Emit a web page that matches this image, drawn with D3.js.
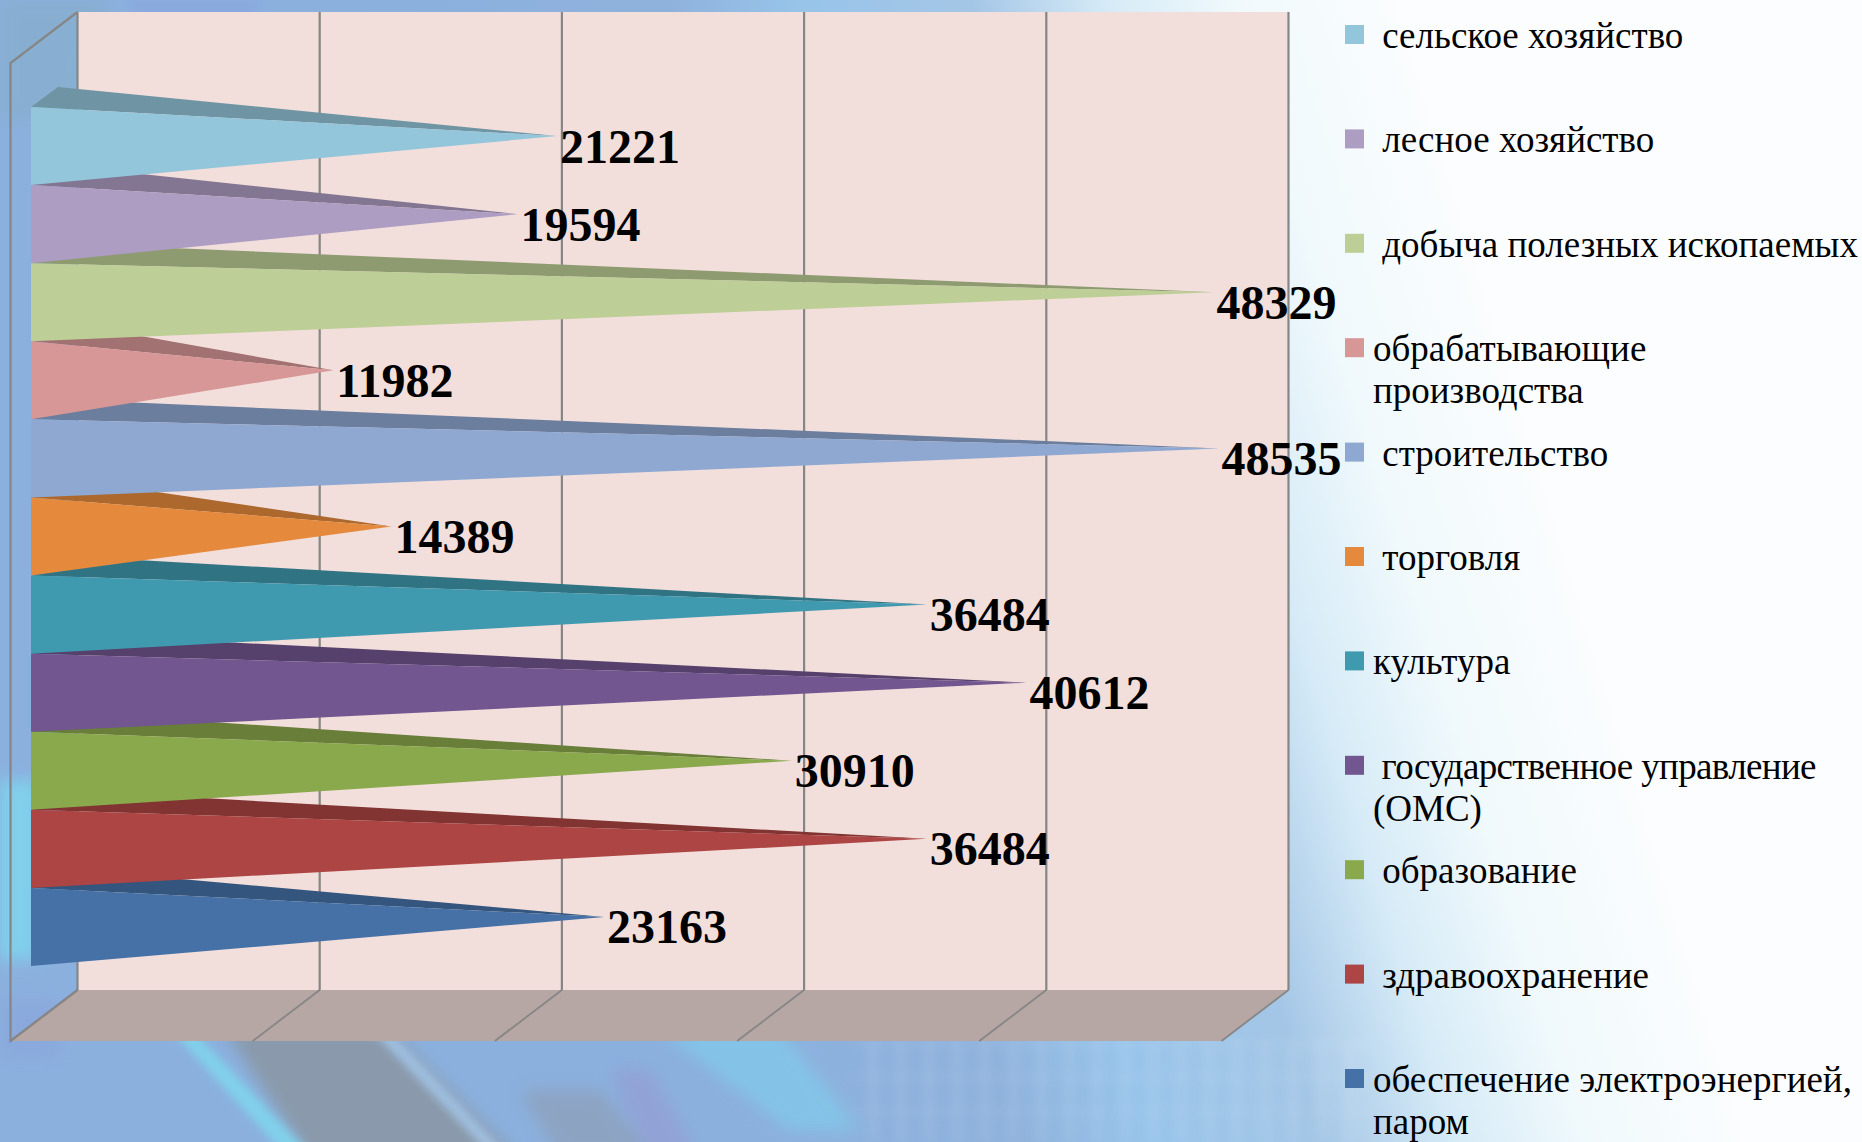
<!DOCTYPE html>
<html><head><meta charset="utf-8">
<script src="https://cdn.jsdelivr.net/npm/d3@7"></script>
<style>html,body{margin:0;padding:0;background:#fff;overflow:hidden}svg{display:block}</style>
</head><body><svg id="c" width="1862" height="1142"></svg>
<script>
const categories = ["сельское хозяйство","лесное хозяйство","добыча полезных ископаемых","обрабатывающие производства","строительство","торговля","культура","государственное управление (ОМС)","образование","здравоохранение","обеспечение электроэнергией, паром"];
const values = [21221,19594,48329,11982,48535,14389,36484,40612,30910,36484,23163];
const colors = ["#93c6da","#ae9dc2","#bdce96","#d69796","#8ea8d2","#e58a3c","#409aaf","#71568f","#8aa84c","#ac4543","#4571a6"];
const legendLines = [["\u00a0сельское хозяйство"],["\u00a0лесное хозяйство"],["\u00a0добыча полезных ископаемых"],["обрабатывающие","производства"],["\u00a0строительство"],["\u00a0торговля"],["культура"],["\u00a0государственное управление","(ОМС)"],["\u00a0образование"],["\u00a0здравоохранение"],["обеспечение электроэнергией,","паром"]];
const axisTicks = [0,10000,20000,30000,40000,50000];

const svg = d3.select("#c");
const defs = svg.append("defs");
const W=1862,H=1142;
// background
const bg = defs.append("linearGradient").attr("id","bg").attr("gradientUnits","userSpaceOnUse")
  .attr("x1",444).attr("y1",293).attr("x2",1400).attr("y2",0);
[[0,"#8bb0de"],[.3,"#8fb2dc"],[.425,"#98c4ea"],[.59,"#a4c6e6"],[.72,"#d6ebf7"],[.84,"#f0f9fc"],[1,"#fbfdfe"]].forEach(s=>bg.append("stop").attr("offset",s[0]).attr("stop-color",s[1]));
[["b8",8],["b5",5],["b30",28]].forEach(f=>defs.append("filter").attr("id",f[0]).attr("x","-50%").attr("y","-50%").attr("width","200%").attr("height","200%").append("feGaussianBlur").attr("stdDeviation",f[1]));
const pat = defs.append("pattern").attr("id","stripes").attr("patternUnits","userSpaceOnUse").attr("width",28).attr("height",34);
pat.append("rect").attr("width",10).attr("height",34).attr("fill","#fff").attr("opacity",.07);
pat.append("rect").attr("y",20).attr("width",28).attr("height",7).attr("fill","#fff").attr("opacity",.04);
const bgG = svg.append("g");
bgG.append("rect").attr("width",W).attr("height",H).attr("fill","url(#bg)");
const blob=(pts,fill,op,f)=>bgG.append("path").attr("d","M"+pts.join("L")+"Z").attr("fill",fill).attr("opacity",op).attr("filter","url(#"+f+")");
blob([[0,0],[110,0],[70,120],[0,120]],"#86aecb",.7,"b8");
blob([[130,0],[260,0],[260,14],[130,14]],"#8a9fe0",.4,"b5");
blob([[225,1030],[390,1030],[520,1160],[310,1160]],"#8a97a6",.9,"b8");
blob([[520,1090],[600,1090],[660,1160],[560,1160]],"#8f98a8",.5,"b8");
blob([[172,1030],[192,1030],[316,1160],[290,1160]],"#7fd8ee",.85,"b5");
blob([[372,1030],[388,1030],[512,1160],[496,1160]],"#a7cdf2",.8,"b5");
blob([[660,1030],[780,1030],[860,1130],[790,1130]],"#7fd0ee",.6,"b8");
blob([[610,1070],[650,1070],[700,1160],[650,1160]],"#9a92cf",.45,"b8");
blob([[0,780],[40,780],[40,960],[0,960]],"#7cdcf0",.8,"b8");
blob([[0,1000],[60,1000],[60,1060],[0,1060]],"#8aa4dc",.6,"b8");
bgG.append("rect").attr("x",850).attr("y",1040).attr("width",520).attr("height",102).attr("fill","url(#stripes)").attr("filter","url(#b5)");

// geometry of the 3D box
const backX0=77.5, backX1=1288.5, backTop=12, backBottom=990, depthX=67, depthY=51;
const x = d3.scaleLinear().domain([axisTicks[0],axisTicks[axisTicks.length-1]]).range([backX0,backX1]);
const y = d3.scaleBand().domain(categories).range([107,966]);
const line = d3.line();
const project=(v,d)=>[x(v)-depthX*d, backBottom+depthY*d];

const G="#868686";
// left wall
svg.append("path").attr("d",line([[backX0,backTop],[backX0-depthX,backTop+depthY],[backX0-depthX,backBottom+depthY],[backX0,backBottom]])+"Z").attr("fill","#8fb4e6").attr("opacity",.1);
// back wall
svg.append("rect").attr("x",backX0).attr("y",backTop).attr("width",backX1-backX0).attr("height",backBottom-backTop).attr("fill","#f2dedb");
// floor
svg.append("path").attr("d",line([project(0,0),project(50000,0),project(50000,1),project(0,1)])+"Z").attr("fill","#b6a7a5");
// grid
svg.append("g").selectAll("line").data(axisTicks).join("line")
  .attr("x1",d=>x(d)).attr("x2",d=>x(d)).attr("y1",backTop).attr("y2",backBottom).attr("stroke",G).attr("stroke-width",2.2);
svg.append("g").selectAll("path").data(axisTicks).join("path")
  .attr("d",d=>line([project(d,0),project(d,1)])).attr("fill","none").attr("stroke",G).attr("stroke-width",1.8);
// wall outline
svg.append("path").attr("d",line([[backX0,backTop],[backX0-depthX,backTop+depthY],[backX0-depthX,backBottom+depthY],[backX0,backBottom]])).attr("fill","none").attr("stroke",G).attr("stroke-width",2.2);

// pyramids, drawn bottom first so upper ones cover lower ones' top faces
const baseX=31, topDX=27, topDY=20;
const order = d3.range(categories.length).reverse();
const tip=i=>[x(values[i])-depthX/2-1, y(categories[i])+y.bandwidth()/2-topDY/2];
const bars = svg.append("g").selectAll("g").data(order).join("g");
bars.append("path").attr("d",i=>{const t=y(categories[i]);return line([[baseX,t],[baseX+topDX,t-topDY],tip(i)])+"Z";})
  .attr("fill",i=>d3.color(colors[i]).darker(.8));
bars.append("path").attr("d",i=>{const t=y(categories[i]);return line([[baseX,t],[baseX,t+y.bandwidth()],tip(i)])+"Z";})
  .attr("fill",i=>colors[i]);
// value labels
svg.append("g").selectAll("text").data(order).join("text")
  .attr("x",i=>tip(i)[0]+3).attr("y",i=>tip(i)[1]+26.5)
  .attr("font-family","'Liberation Serif',serif").attr("font-weight","bold").attr("font-size",48).attr("fill","#000")
  .text(i=>values[i]);
// legend
const lg = d3.scalePoint().domain(categories).range([25,1069]);
const items = svg.append("g").selectAll("g").data(categories).join("g").attr("transform",d=>`translate(1345,${lg(d)})`);
items.append("rect").attr("width",19).attr("height",19).attr("fill",(d,i)=>colors[i]);
items.each(function(d,i){
  d3.select(this).selectAll("text").data(legendLines[i]).join("text")
    .attr("x",28).attr("y",(l,j)=>23+j*42)
    .attr("font-family","'Liberation Serif',serif").attr("font-size",37).attr("fill","#000")
    .attr("letter-spacing",l=>l.includes("управление")?-0.65:null)
    .style("white-space","pre").text(l=>l);
});
</script></body></html>
